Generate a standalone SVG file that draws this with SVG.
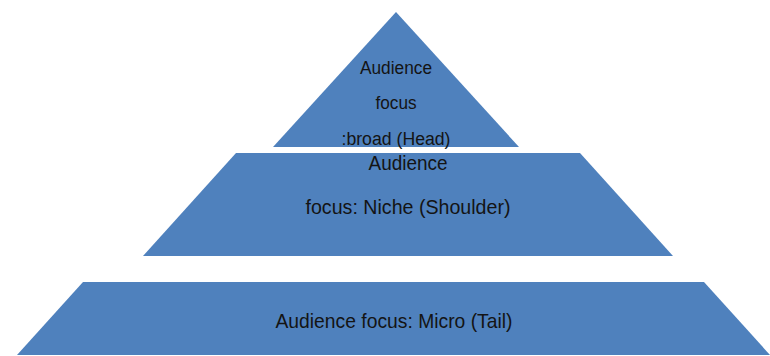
<svg xmlns="http://www.w3.org/2000/svg" width="770" height="356" viewBox="0 0 770 356">
<style>
.lvl{fill:#4F81BD;stroke:none}
.t{font-family:"Liberation Sans",Arial,sans-serif;fill:#141414;text-anchor:middle}
</style>
<rect width="770" height="356" fill="#ffffff"/>
<g id="head">
<polygon class="lvl" points="396,12 519,147 273,147"/>
<text class="t" x="396" y="74" font-size="18" textLength="72" lengthAdjust="spacingAndGlyphs">Audience</text>
<text class="t" x="396" y="109" font-size="18" textLength="41" lengthAdjust="spacingAndGlyphs">focus</text>
<text class="t" x="396" y="145" font-size="18" textLength="109" lengthAdjust="spacingAndGlyphs">:broad (Head)</text>
</g>
<g id="shoulder">
<polygon class="lvl" points="236,153 580,153 673,256 143,256"/>
<text class="t" x="408" y="170" font-size="20" textLength="79" lengthAdjust="spacingAndGlyphs">Audience</text>
<text class="t" x="408" y="214" font-size="20" textLength="205" lengthAdjust="spacingAndGlyphs">focus: Niche (Shoulder)</text>
</g>
<g id="tail">
<polygon class="lvl" points="83,282 704,282 770,355 17,355"/>
<text class="t" x="394" y="328" font-size="21" textLength="237" lengthAdjust="spacingAndGlyphs">Audience focus: Micro (Tail)</text>
</g>
<g id="connectors"/>
</svg>
